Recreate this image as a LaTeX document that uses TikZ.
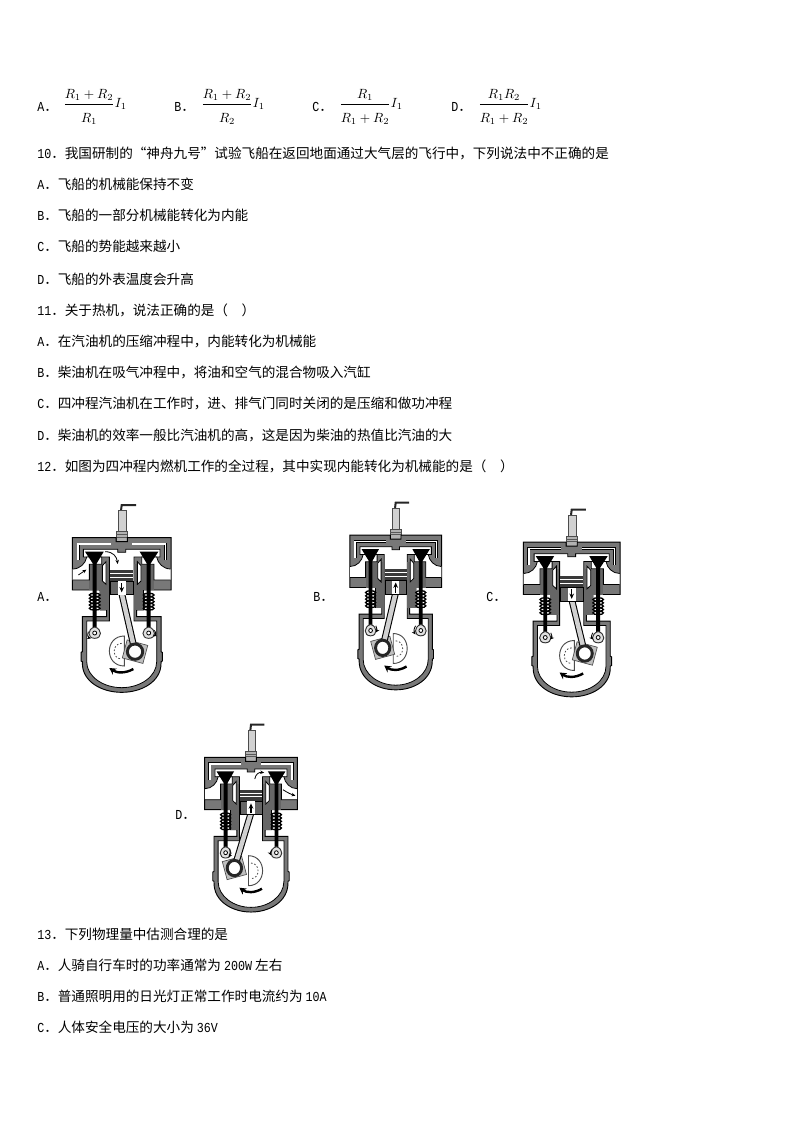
\documentclass[tikz,border=0pt]{standalone}
\usepackage{amsmath}
\usepackage{fontspec}
\setmainfont{Noto Sans CJK SC}
\newfontfamily\latfont[FakeStretch=0.85]{Liberation Mono}
\usetikzlibrary{arrows.meta}
\newcommand{\lat}[1]{{\latfont\fontsize{10.3pt}{12pt}\selectfont #1}}
\definecolor{bodyg}{HTML}{787878}
\definecolor{blockg}{HTML}{666666}
\definecolor{ringg}{HTML}{3A3A3A}
\tikzset{
  txt/.style={anchor=base west,inner sep=0pt,font=\fontsize{10.2pt}{12pt}\selectfont,text=black},
  fml/.style={anchor=base,inner sep=0pt,text=black},
  shell/.style={fill=bodyg,draw=black,line width=.7pt},
  hole/.style={fill=white,draw=black,line width=.6pt},
  flow/.style={line width=.6pt,-{Stealth[length=3pt,width=2.6pt]}},
  pistarrow/.style={line width=.9pt,-{Stealth[length=4pt,width=3.5pt]}},
  turn/.style={line width=1.8pt,-{Stealth[length=5pt,width=5.5pt]}}
}
% x, y, x unit, piston top, crank side, pin x, pin y, extras
\newcommand{\engine}[8]{%
\begin{scope}[shift={(#1,#2)},x=#3,y=-0.25pt]
  % spark plug
  \draw[line width=1.5pt,black!85] (43,30)--(0,30)--(-2,46);
  \filldraw[fill=black!18,draw=black!70,line width=.5pt] (-10,46) rectangle (13,110);
  \filldraw[fill=black!30,draw=black!70,line width=.5pt] (-17,110) rectangle (17,140);
  \draw[black!65,line width=.4pt] (-17,118)--(17,118) (-17,126)--(17,126);
  % head, block and crank case
  \path[shell] (-17,128)--(-148,128)--(-148,285)--(-65,285)--(-65,345)--(-45,345)--(-45,365)--(-118,365)--(-118,470)--(-122,472)--(-122,498)--(-118,500)--(-118,505)
    .. controls (-118,560) and (-60,592) .. (0,592) .. controls (60,592) and (118,560) .. (118,505)
    --(118,500)--(122,498)--(122,472)--(118,470)--(118,365)--(45,365)--(45,345)--(65,345)--(65,285)--(148,285)--(148,128)--(17,128)--(17,140)--(-17,140)--cycle;
  % interior
  \path[hole] (-37,378)--(-105,378)--(-105,500) .. controls (-105,545) and (-55,578) .. (0,578) .. controls (55,578) and (105,545) .. (105,500)
    --(105,378)--(37,378)--(37,186)--(115,186)--(115,163)--(12,163)--(12,172)--(-12,172)--(-12,163)--(-115,163)--(-115,186)--(-37,186)--cycle;
  \foreach \s in {-1,1}{
    % blocks
    \fill[blockg] (\s*97,208) rectangle (\s*38,285);
    \fill[blockg] (\s*65,285) rectangle (\s*38,345);
    % ports
    \path[hole] (\s*147,222) .. controls (\s*125,222) and (\s*108,205) .. (\s*105,186) -- (\s*60,186) -- (\s*60,208) -- (\s*97,208) -- (\s*97,255) -- (\s*147,255);
    % slit
    \filldraw[hole] (\s*58,212)--(\s*47,200)--(\s*47,268)--(\s*58,258)--cycle;
    % jacket
    \draw[black,line width=2.2pt] (\s*131,196)--(\s*131,147)--(\s*32,147);
    \draw[white,line width=1.2pt] (\s*131,196)--(\s*131,147)--(\s*32,147);
    % spring
    \foreach \yy in {300,310,320,330,340}{
      \draw[black,line width=1pt] (\s*81,\yy) ellipse [x radius=16,y radius=5.5];
    }
    % valve
    \fill[black] (\s*110,170)--(\s*54,170)--(\s*75,205)--(\s*75,398)--(\s*87,398)--(\s*87,205)--cycle;
    % cam
    \filldraw[fill=black!12,draw=black!80,line width=.7pt] (\s*81,396) .. controls (\s*104,402) and (\s*104,430) .. (\s*81,430) .. controls (\s*58,430) and (\s*58,402) .. (\s*81,396);
    \filldraw[fill=white,draw=black,line width=.6pt] (\s*81,414) circle [radius=6];
  }
  % crank
  \begin{scope}[xscale=#5]
    \filldraw[fill=white,draw=black!70,line width=.7pt] (8,423) .. controls (-52,423) and (-52,513) .. (8,513) -- cycle;
    \draw[black!70,line width=.6pt,dash pattern=on 1.2pt off 1.4pt] (0,445) .. controls (-30,445) and (-30,492) .. (0,492);
    \filldraw[fill=black!25,draw=black!70,line width=.5pt,rotate around={-15:(#6,#7)}] (#6-32,#7-28) rectangle (#6+32,#7+28);
    \draw[black,line width=5pt] (0,#4+70)--(#6,#7);
    \draw[black!18,line width=3.4pt] (0,#4+70)--(#6,#7);
    \filldraw[fill=white,draw=black!85,line width=2.2pt] (#6,#7) circle [radius=23];
  \end{scope}
  % piston
  \fill[ringg] (-35,#4) rectangle (35,#4+34);
  \draw[white,line width=.35pt] (-35,#4+10)--(35,#4+10) (-35,#4+21)--(35,#4+21);
  \filldraw[fill=blockg,draw=black,line width=.5pt] (-35,#4+34) rectangle (35,#4+74);
  \fill[white] (-12,#4+34) rectangle (12,#4+74);
  \draw[turn] (35,522) .. controls (10,536) and (-15,534) .. (-37,519);
  #8
\end{scope}}
\begin{document}
\begin{tikzpicture}[x=0.75pt,y=-0.75pt]
\useasboundingbox[fill=white] (0,0) rectangle (794,1123);
% top options
\newcommand{\tallR}{\rule{0pt}{12.5pt}}
\node[txt] (a0) at (37,112) {\lat{A}．};
\node[fml] (fa) at (95,107.5) {$\dfrac{R_1+R_2}{\tallR R_1}I_1$};
\node[txt] (b0) at (174,112) {\lat{B}．};
\node[fml] (fb) at (233,107.5) {$\dfrac{R_1+R_2}{\tallR R_2}I_1$};
\node[txt] (c0) at (312,112) {\lat{C}．};
\node[fml] (fc) at (371,107.5) {$\dfrac{R_1}{\tallR R_1+R_2}I_1$};
\node[txt] (d0) at (451,112) {\lat{D}．};
\node[fml] (fd) at (510,107.5) {$\dfrac{R_1R_2}{\tallR R_1+R_2}I_1$};
% question 10
\node[txt] (q10) at (37,159) {\lat{10}．我国研制的“神舟九号”试验飞船在返回地面通过大气层的飞行中，下列说法中不正确的是};
\node[txt] (q10a) at (37,190) {\lat{A}．飞船的机械能保持不变};
\node[txt] (q10b) at (37,221) {\lat{B}．飞船的一部分机械能转化为内能};
\node[txt] (q10c) at (37,252) {\lat{C}．飞船的势能越来越小};
\node[txt] (q10d) at (37,284) {\lat{D}．飞船的外表温度会升高};
% question 11
\node[txt] (q11) at (37,315) {\lat{11}．关于热机，说法正确的是（\hspace{1em}）};
\node[txt] (q11a) at (37,346) {\lat{A}．在汽油机的压缩冲程中，内能转化为机械能};
\node[txt] (q11b) at (37,377) {\lat{B}．柴油机在吸气冲程中，将油和空气的混合物吸入汽缸};
\node[txt] (q11c) at (37,408) {\lat{C}．四冲程汽油机在工作时，进、排气门同时关闭的是压缩和做功冲程};
\node[txt] (q11d) at (37,440) {\lat{D}．柴油机的效率一般比汽油机的高，这是因为柴油的热值比汽油的大};
% question 12
\node[txt] (q12) at (37,471) {\lat{12}．如图为四冲程内燃机工作的全过程，其中实现内能转化为机械能的是（\hspace{1em}）};
\node[txt] (la) at (37,601) {\lat{A}．};
\node[txt] (lb) at (313,601) {\lat{B}．};
\node[txt] (lc) at (486,601) {\lat{C}．};
\node[txt] (ld) at (175,819) {\lat{D}．};
\engine{121.7}{495}{0.25pt}{225}{1}{40}{470}{%
  \draw[pistarrow] (0,264)--(0,292);
  \draw[flow] (-130,240)--(-106,224);
  \draw[flow] (-50,170) .. controls (-25,170) and (-15,185) .. (-12,207);
  \draw[flow] (-100,410) .. controls (-104,420) and (-100,428) .. (-92,430);
  \draw[flow] (98,406) .. controls (104,414) and (102,420) .. (94,424);
}
\engine{395.7}{492.5}{0.2325pt}{230}{-1}{42}{466}{%
  \draw[pistarrow] (0,300)--(0,270);
  \draw[flow] (-64,400) .. controls (-60,408) and (-60,414) .. (-64,420);
  \draw[flow] (64,400) .. controls (58,410) and (58,418) .. (64,426);
}
\engine{571.7}{499.5}{0.245pt}{230}{1}{40}{462}{%
  \draw[pistarrow] (0,268)--(0,298);
  \foreach \xa/\ya/\xb/\yb in {-28,174,-24,182, -18,183,-15,191, -6,182,-6,192, 6,182,6,192, 18,183,15,191, 28,172,24,182, 10,170,13,176}{
    \draw[black,line width=.6pt] (\xa,\ya)--(\xb,\yb);
  }
  \draw[flow] (-64,400) .. controls (-60,408) and (-60,414) .. (-66,420);
  \draw[flow] (64,400) .. controls (60,408) and (60,414) .. (66,420);
}
\engine{251}{714.7}{0.235pt}{225}{-1}{53}{460}{%
  \draw[pistarrow] (0,296)--(0,266);
  \draw[flow] (12,193) .. controls (15,178) and (25,172) .. (42,174);
  \draw[flow] (102,225) .. controls (115,233) and (128,239) .. (142,243);
  \draw[flow] (-68,402) .. controls (-66,412) and (-66,420) .. (-72,428);
  \draw[flow] (66,405) .. controls (62,412) and (62,418) .. (64,422);
}
% question 13
\node[txt] (q13) at (37,939) {\lat{13}．下列物理量中估测合理的是};
\node[txt] (q13a) at (37,970) {\lat{A}．人骑自行车时的功率通常为 \lat{200W} 左右};
\node[txt] (q13b) at (37,1001) {\lat{B}．普通照明用的日光灯正常工作时电流约为 \lat{10A}};
\node[txt] (q13c) at (37,1032) {\lat{C}．人体安全电压的大小为 \lat{36V}};
\end{tikzpicture}
\end{document}
